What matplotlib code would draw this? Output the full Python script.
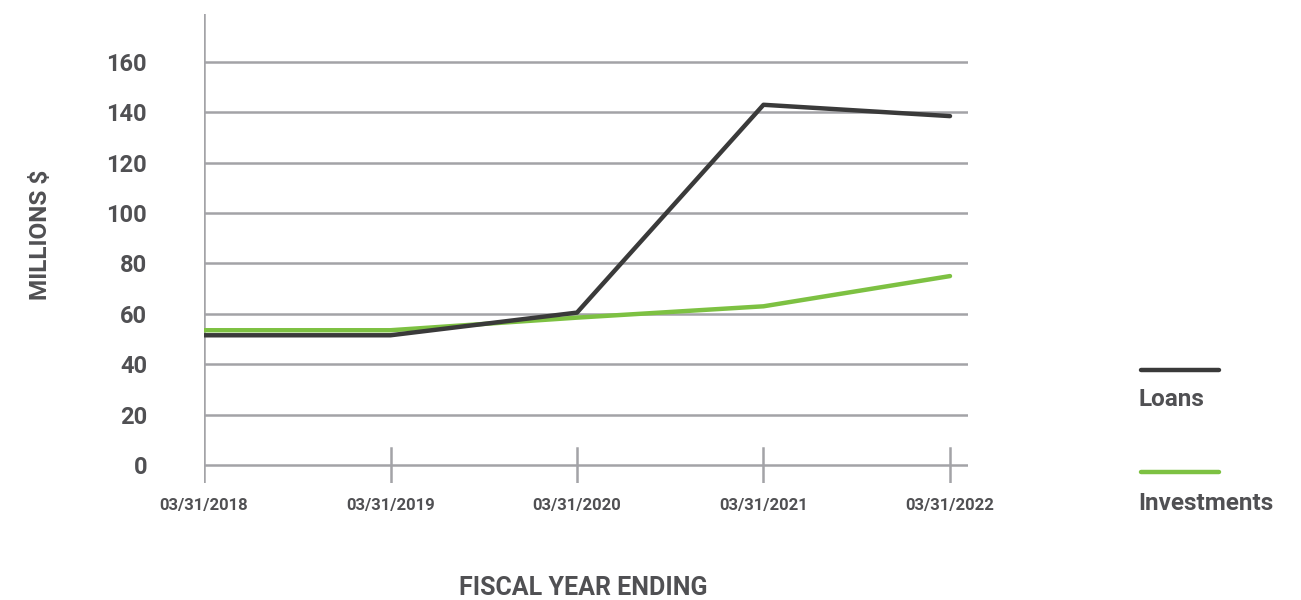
import matplotlib.pyplot as plt

# data
years = ['03/31/2018', '03/31/2019', '03/31/2020', '03/31/2021', '03/31/2022']
loans = [51.5, 51.5, 60.5, 143, 138.5]
investments = [53.5, 53.5, 58.5, 63, 75]
yticks = [0, 20, 40, 60, 80, 100, 120, 140, 160]

text_col = '#505053'
grid_col = '#a3a3a7'
loan_col = '#3a3a3a'
inv_col = '#7dc142'

plt.rcParams['font.family'] = ['Roboto', 'DejaVu Sans']
plt.rcParams['font.weight'] = 'bold'

fig = plt.figure(figsize=(13.01, 6.0), dpi=100)
ax = fig.add_axes([204 / 1301, 1 - 483 / 600, 764 / 1301, 469 / 600])

x = list(range(len(years)))
ax.set_xlim(0, 4 + 18 / 186.5)
ax.set_ylim(-18 / 2.519, 451 / 2.519)

# gridlines
for v in yticks:
    ax.axhline(v, color=grid_col, lw=1.8, zorder=1)
ax.axvline(0, color=grid_col, lw=1.8, zorder=1)
for xi in x[1:]:
    ax.plot([xi, xi], [-18 / 2.519, 17 / 2.519], color=grid_col, lw=1.8, zorder=1)

ax.plot(x, investments, color=inv_col, lw=3.2, solid_capstyle='round', zorder=3)
ax.plot(x, loans, color=loan_col, lw=3.2, solid_capstyle='round', zorder=4)

for s in ax.spines.values():
    s.set_visible(False)

ax.set_yticks(yticks)
ax.set_yticklabels([str(v) for v in yticks], fontsize=17, color=text_col, fontweight='bold')
ax.tick_params(axis='y', length=0, pad=41)
ax.set_xticks(x)
ax.set_xticklabels(years, fontsize=12, color=text_col, fontweight='bold')
ax.tick_params(axis='x', length=0, pad=11)

fig.text(40 / 1301, 1 - 235 / 600, 'MILLIONS $', rotation=90, ha='center', va='center',
         fontsize=17.5, color=text_col, fontweight='bold')
fig.text(583 / 1301, 1 - 588 / 600, 'FISCAL YEAR ENDING', ha='center', va='center',
         fontsize=18, color=text_col, fontweight='bold')

# legend
for yl, col, lab, yt in [(370, loan_col, 'Loans', 399), (472, inv_col, 'Investments', 504)]:
    fig.add_artist(plt.Line2D([1141 / 1301, 1219 / 1301], [1 - yl / 600, 1 - yl / 600],
                              color=col, lw=3.2, solid_capstyle='round'))
    fig.text(1138 / 1301, 1 - yt / 600, lab, ha='left', va='center',
             fontsize=17.5, color=text_col, fontweight='bold')

fig.savefig('out.png', dpi=100)
